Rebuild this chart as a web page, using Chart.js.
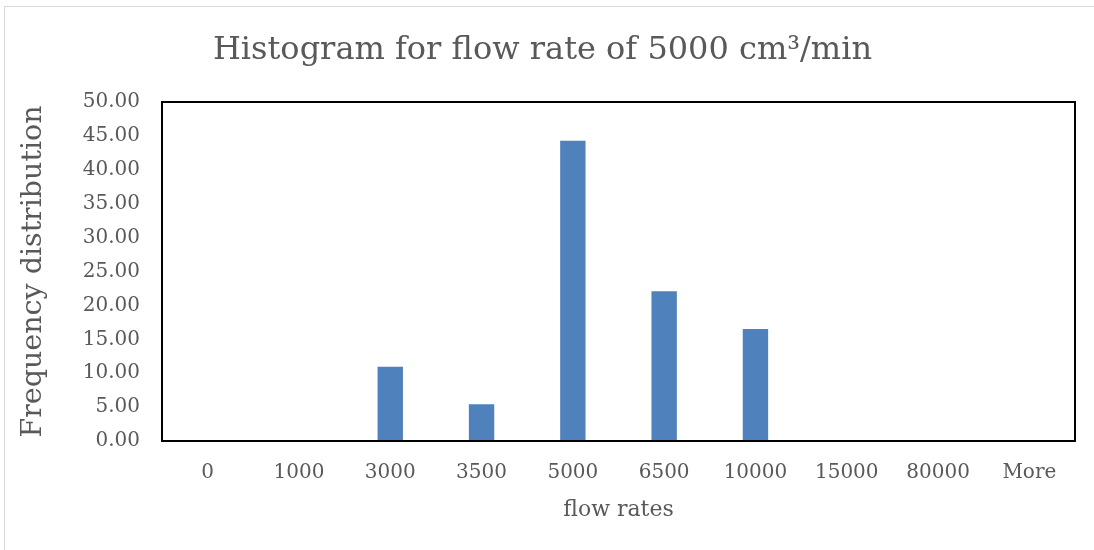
<!DOCTYPE html>
<html>
<head>
<meta charset="utf-8">
<title>Histogram for flow rate of 5000 cm³/min</title>
<script src="https://cdn.jsdelivr.net/npm/chart.js@4.4.1/dist/chart.umd.min.js"></script>
<style>
  html, body { margin: 0; padding: 0; background: #fff; }
  #wrap { position: relative; width: 1094px; height: 550px; overflow: hidden; }
  #frame { position: absolute; left: 4px; top: 6px; width: 1100px; height: 560px;
           border: 1px solid #d9d9d9; box-sizing: border-box; }
  canvas { position: absolute; left: 0; top: 0; }
</style>
</head>
<body>
<div id="wrap">
  <div id="frame"></div>
  <canvas id="hist" width="1094" height="550"></canvas>
</div>
<script>
const flowRates = ["0", "1000", "3000", "3500", "5000", "6500", "10000", "15000", "80000", "More"];
const frequency = [0, 0, 11.11, 5.56, 44.44, 22.22, 16.67, 0, 0, 0];
const yMax = 50;
const yStep = 5;

const textColor = "#595959";
const serif = "'DejaVu Serif', serif";

// black box round the plot area
const plotFrame = {
  id: "plotFrame",
  afterDatasetsDraw(chart) {
    const { ctx, chartArea: a } = chart;
    ctx.save();
    ctx.strokeStyle = "#000";
    ctx.lineWidth = 2;
    ctx.strokeRect(a.left, a.top, a.right - a.left, a.bottom - a.top);
    ctx.restore();
  }
};

new Chart(document.getElementById("hist"), {
  type: "bar",
  data: {
    labels: flowRates,
    datasets: [{
      label: "Frequency",
      data: frequency,
      backgroundColor: "#4f81bd",
      borderColor: "rgba(255,255,255,0.45)",
      borderWidth: 1,
      categoryPercentage: 1,
      barPercentage: 0.3
    }]
  },
  options: {
    responsive: false,
    animation: false,
    layout: { padding: { left: 10, right: 19, top: 6, bottom: 0 } },
    plugins: {
      legend: { display: false },
      tooltip: { enabled: false },
      title: {
        display: true,
        text: "Histogram for flow rate of 5000 cm³/min",
        color: textColor,
        font: { family: serif, size: 32, weight: "normal" },
        padding: { top: 25, bottom: 32.6 }
      }
    },
    scales: {
      x: {
        grid: { display: false, drawTicks: false },
        border: { display: false },
        ticks: {
          color: textColor,
          font: { family: serif, size: 20 },
          padding: 20,
          maxRotation: 0,
          autoSkip: false
        },
        title: {
          display: true,
          text: "flow rates",
          color: textColor,
          font: { family: serif, size: 22 },
          padding: { top: 0, bottom: 27 }
        },
        afterFit(scale) { scale.height = 109; }
      },
      y: {
        min: 0,
        max: yMax,
        grid: { display: false, drawTicks: false },
        border: { display: false },
        ticks: {
          stepSize: yStep,
          color: textColor,
          font: { family: serif, size: 20 },
          padding: 22,
          callback: v => v.toFixed(2)
        },
        title: {
          display: true,
          text: "Frequency distribution",
          color: textColor,
          font: { family: serif, size: 28.5 },
          padding: { top: 6, bottom: 0 }
        },
        afterFit(scale) { scale.width = 152; }
      }
    }
  },
  plugins: [plotFrame]
});
</script>
</body>
</html>
